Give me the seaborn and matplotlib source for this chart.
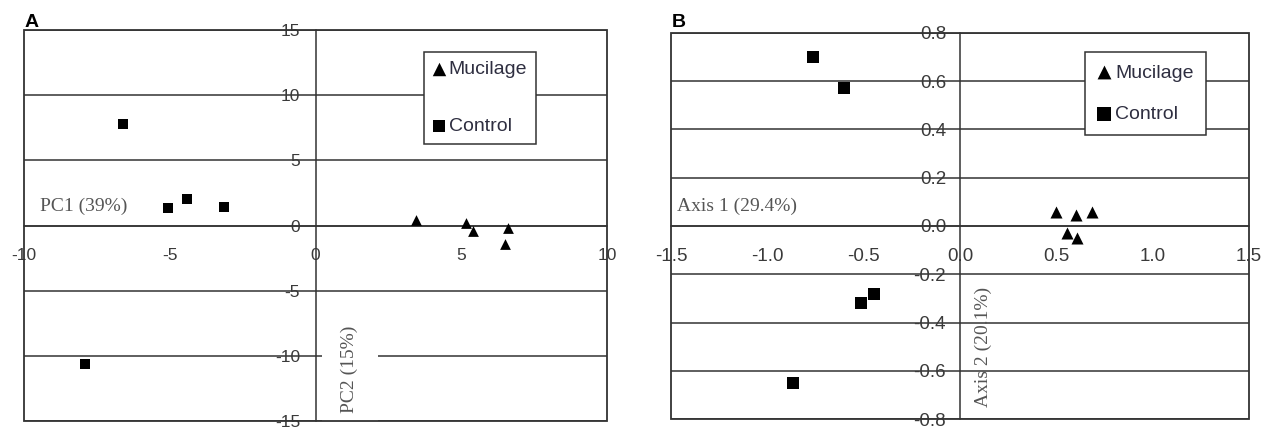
import matplotlib
matplotlib.use("Agg")
import matplotlib.pyplot as plt
import seaborn as sns
from matplotlib.patches import Rectangle

# ---------------- data ----------------
groups = ["Mucilage", "Control"]

a_mucilage_x = [3.45, 5.15, 5.4, 6.6, 6.5]
a_mucilage_y = [0.45, 0.2, -0.45, -0.2, -1.4]
a_control_x = [-6.6, -5.05, -4.4, -3.15, -7.9]
a_control_y = [7.8, 1.35, 2.05, 1.45, -10.6]

b_mucilage_x = [0.50, 0.60, 0.685, 0.555, 0.605]
b_mucilage_y = [0.06, 0.045, 0.06, -0.03, -0.05]
b_control_x = [-0.765, -0.60, -0.445, -0.515, -0.865]
b_control_y = [0.70, 0.57, -0.28, -0.32, -0.65]

a_xticks = [-10, -5, 0, 5, 10]
a_xticklabels = ["-10", "-5", "0", "5", "10"]
a_yticks = [-15, -10, -5, 0, 5, 10, 15]
a_yticklabels = ["-15", "-10", "-5", "0", "5", "10", "15"]

b_xticks = [-1.5, -1.0, -0.5, 0.0, 0.5, 1.0, 1.5]
b_xticklabels = ["-1.5", "-1.0", "-0.5", "0.0", "0.5", "1.0", "1.5"]
b_yticks = [-0.8, -0.6, -0.4, -0.2, 0.0, 0.2, 0.4, 0.6, 0.8]
b_yticklabels = ["-0.8", "-0.6", "-0.4", "-0.2", "0.0", "0.2", "0.4", "0.6", "0.8"]

# ---------------- style ----------------
sns.set_style("white")
plt.rcParams["font.family"] = ["Liberation Sans", "DejaVu Sans"]
plt.rcParams["axes.unicode_minus"] = False

LINE = "#333333"
TICK_TXT = "#3a3a3a"
LBL_TXT = "#555555"
LEG_TXT = "#2e2e40"

fig = plt.figure(figsize=(12.79, 4.28), dpi=100)
axA = fig.add_axes([24 / 1279, 1 - 421 / 428, 583 / 1279, 391 / 428])
axB = fig.add_axes([671 / 1279, 1 - 419 / 428, 578 / 1279, 386 / 428])


def setup(ax, xlim, ylim, xticks, xtl, yticks, ytl, fs, ypad, s_tri, s_sq,
          mx, my, cx, cy):
    sns.scatterplot(x=mx, y=my, marker="^", s=s_tri, color="black",
                    linewidth=0, label=groups[0], ax=ax, zorder=4)
    sns.scatterplot(x=cx, y=cy, marker="s", s=s_sq, color="black",
                    linewidth=0, label=groups[1], ax=ax, zorder=4)
    ax.set_xlim(*xlim)
    ax.set_ylim(*ylim)
    ax.set_xticks(xticks)
    ax.set_xticklabels(xtl)
    ax.set_yticks(yticks)
    ax.set_yticklabels(ytl)
    ax.set_xlabel("")
    ax.set_ylabel("")
    for side in ("top", "right"):
        ax.spines[side].set_visible(False)
    ax.spines["left"].set_position(("data", 0))
    ax.spines["bottom"].set_position(("data", 0))
    for side in ("left", "bottom"):
        ax.spines[side].set_color(LINE)
        ax.spines[side].set_linewidth(1.1)
    ax.set_axisbelow(True)
    ax.yaxis.grid(True, color=LINE, linewidth=1.1)
    ax.xaxis.grid(False)
    ax.tick_params(axis="x", direction="out", length=4, width=1, color=LINE,
                   pad=12, labelsize=fs, labelcolor=TICK_TXT)
    ax.tick_params(axis="y", length=0, pad=ypad, labelsize=fs,
                   labelcolor=TICK_TXT)
    ax.add_patch(Rectangle((0, 0), 1, 1, transform=ax.transAxes, fill=False,
                           edgecolor=LINE, linewidth=1.3, zorder=6,
                           clip_on=False))


setup(axA, (-10, 10), (-15, 15), a_xticks, a_xticklabels, a_yticks,
      a_yticklabels, 12.5, 11, 60, 45,
      a_mucilage_x, a_mucilage_y, a_control_x, a_control_y)
setup(axB, (-1.5, 1.5), (-0.8, 0.8), b_xticks, b_xticklabels, b_yticks,
      b_yticklabels, 13.5, 10, 75, 70,
      b_mucilage_x, b_mucilage_y, b_control_x, b_control_y)

# legends
legA = axA.legend(loc="upper left", bbox_to_anchor=(0.686, 0.944),
                  borderaxespad=0, frameon=True, fancybox=False,
                  fontsize=14, labelspacing=2.0, borderpad=0.45,
                  handlelength=0.7, handletextpad=0.12, markerscale=1.25)
legB = axB.legend(loc="upper left", bbox_to_anchor=(0.716, 0.951),
                  borderaxespad=0, frameon=True, fancybox=False,
                  fontsize=14, labelspacing=1.22, borderpad=0.62,
                  handlelength=0.7, handletextpad=0.25, markerscale=1.15)
for leg in (legA, legB):
    fr = leg.get_frame()
    fr.set_edgecolor(LINE)
    fr.set_linewidth(1.1)
    fr.set_facecolor("white")
    fr.set_alpha(1)
    leg.set_zorder(7)
    for t in leg.get_texts():
        t.set_color(LEG_TXT)

# axis titles (serif, inside plot)
serif = ["Liberation Serif", "DejaVu Serif"]
axA.text(-9.45, 1.5, "PC1 (39%)", family=serif, fontsize=14, color=LBL_TXT,
         ha="left", va="center", zorder=3)
axA.text(1.17, -11.0, "PC2 (15%)", family=serif, fontsize=14, color=LBL_TXT,
         rotation=90, ha="center", va="center", zorder=3,
         bbox=dict(boxstyle="square,pad=1.0", facecolor="white",
                   edgecolor="none"))
axB.text(-1.469, 0.08, "Axis 1 (29.4%)", family=serif, fontsize=14,
         color=LBL_TXT, ha="left", va="center", zorder=3)
axB.text(0.12, -0.50, "Axis 2 (20.1%)", family=serif, fontsize=14,
         color=LBL_TXT, rotation=90, ha="center", va="center", zorder=3)

# panel letters
fig.text(25 / 1279, 1 - 27 / 428, "A", fontsize=14, fontweight="bold",
         ha="left", va="baseline", color="black")
fig.text(672 / 1279, 1 - 27 / 428, "B", fontsize=14, fontweight="bold",
         ha="left", va="baseline", color="black")

fig.savefig("out.png", dpi=100, facecolor="white")
